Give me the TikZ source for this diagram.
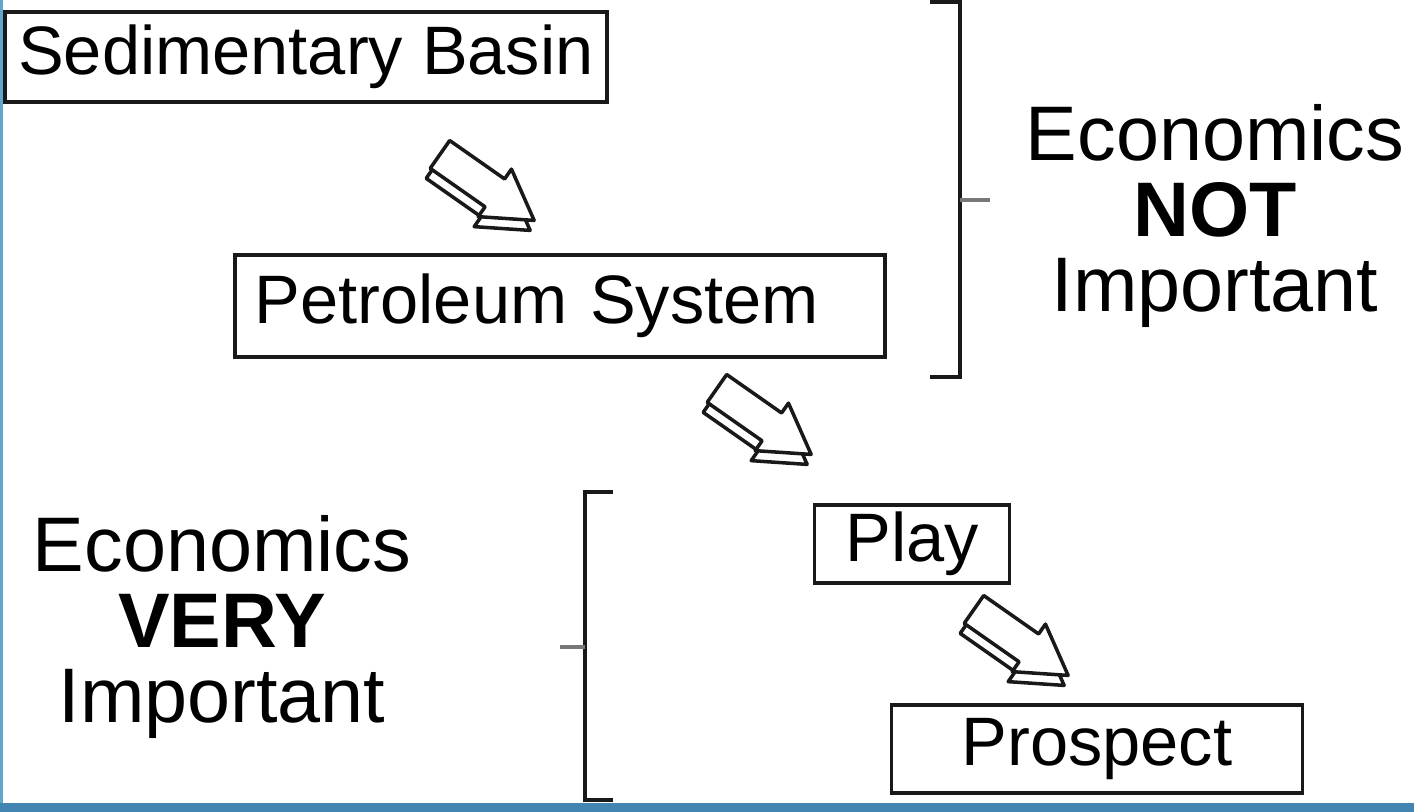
\documentclass[tikz,border=0pt]{standalone}
\usepackage{fontspec}
\setmainfont{Liberation Sans}
\usetikzlibrary{calc}
\definecolor{ink}{RGB}{25,25,25}
\definecolor{tick}{RGB}{120,120,120}
\definecolor{edgeblue}{RGB}{66,133,178}
\definecolor{sideblue}{RGB}{96,166,206}
\def\lw{1pt}

\tikzset{
  stagebox/.style={draw=ink, line width=\lw, fill=white, inner sep=0pt,
    font=\fontsize{19.5}{23}\selectfont},
  tagtext/.style={align=center, inner sep=0pt, font=\fontsize{22}{21.4}\selectfont},
  bracket/.style={ink, line width=\lw},
  arrowface/.style={fill=white, draw=ink, line width=1pt, line join=round},
}

\begin{document}
\begin{tikzpicture}[x=0.01cm, y=-0.01cm]
\useasboundingbox (0,0) rectangle (1414,812);
\fill[white] (0,0) rectangle (1414,812);
% blue frame strips
\fill[sideblue] (0,0) rectangle (3,812);
\fill[edgeblue] (0,803) rectangle (1414,812);

% the four stages
\node[stagebox, minimum width=6.02cm, minimum height=0.90cm] (basin) at (306,57) {Sedimentary Basin};
\node[stagebox, minimum width=6.50cm, minimum height=1.02cm, text width=6.1cm, align=left] (petro) at (560,306) {Petroleum System};
\node[stagebox, minimum width=1.95cm, minimum height=0.78cm] (play) at (912,544) {Play};
\node[stagebox, minimum width=4.11cm, minimum height=0.88cm] (prospect) at (1097,749) {Prospect};

% block arrows: back copy first, then the face
\coordinate (arr1) at (485,186);
\coordinate (arr2) at (762,420);
\coordinate (arr3) at (1019,641);
\foreach \a in {arr1,arr2,arr3} {
  \foreach \dx/\dy in {-4/10, 0/0}
    \draw[arrowface, shift={($(\a)+(\dx,\dy)$)}, rotate=-35]
      (-55,-17) -- (12,-17) -- (12,-29) -- (60,0) -- (12,29) -- (12,17) -- (-55,17) -- cycle;
}

% brackets
\draw[bracket] (930,2) -- (960,2) -- (960,377) -- (930,377);
\draw[bracket, tick] (960,200) -- (990,200);
\draw[bracket] (613,492) -- (585,492) -- (585,800) -- (613,800);
\draw[bracket, tick] (585,647) -- (560,647);

% bracket labels
\node[tagtext] (nottag) at (1215,216) {Economics\\\textbf{NOT}\\Important};
\node[tagtext] (verytag) at (222,627) {Economics\\\textbf{VERY}\\Important};
\end{tikzpicture}
\end{document}
